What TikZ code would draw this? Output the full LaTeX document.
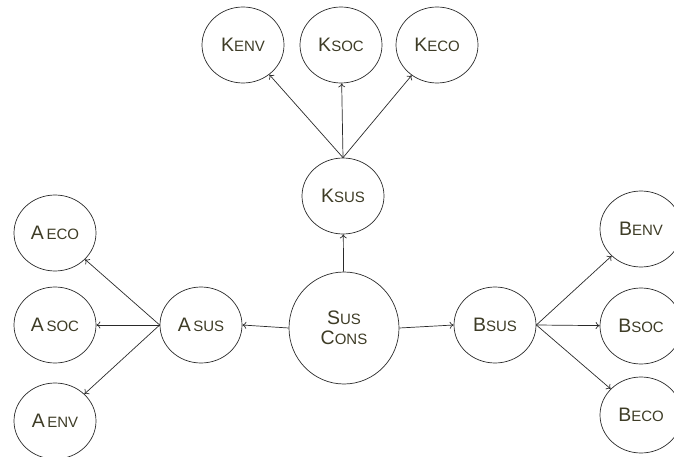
\documentclass[tikz,border=0pt]{standalone}
\usepackage{fontspec}
\setmainfont{Liberation Sans}
\usepackage{tikz}
\usepackage{xcolor}
\usetikzlibrary{arrows.meta,shapes}
\definecolor{txtcol}{HTML}{3E3C26}
\definecolor{linecol}{HTML}{2A2A2A}
\newcommand{\smcap}[2]{#1{\fontsize{15}{17}\selectfont #2}}
\tikzset{
  bubble/.style={ellipse,draw=linecol,line width=0.7pt,text=txtcol,inner sep=0pt,
    minimum width=82pt,minimum height=76pt,font=\fontsize{19.5}{22}\selectfont},
  link/.style={-{To[length=4pt,width=7pt]},draw=linecol,line width=0.7pt}
}
\begin{document}
\begin{tikzpicture}[x=1pt,y=-1pt]
\useasboundingbox (0,0) rectangle (674,457);
\clip (0,0) rectangle (674,457);
% centre and the three sustainability nodes
\node[bubble,minimum width=110pt,minimum height=112pt,align=center] (cons) at (344,328) {\smcap{S}{US}\\[-2pt]\smcap{C}{ONS}};
\node[bubble] (ksus) at (343,196) {\smcap{K}{SUS}};
\node[bubble] (asus) at (201,325) {\smcap{A}{\,SUS}};
\node[bubble] (bsus) at (495,325) {\smcap{B}{SUS}};
% K branch
\node[bubble] (kenv) at (243,45) {\smcap{K}{ENV}};
\node[bubble] (ksoc) at (341,45) {\smcap{K}{SOC}};
\node[bubble] (keco) at (437,45) {\smcap{K}{ECO}};
% A branch
\node[bubble] (aeco) at (55,233) {\smcap{A}{\,ECO}};
\node[bubble] (asoc) at (55,325) {\smcap{A}{\,SOC}};
\node[bubble] (aenv) at (55,421) {\smcap{A}{\,ENV}};
% B branch
\node[bubble] (benv) at (641,229) {\smcap{B}{ENV}};
\node[bubble] (bsoc) at (641,326) {\smcap{B}{SOC}};
\node[bubble] (beco) at (641,415) {\smcap{B}{ECO}};
\draw[link] (cons) -- (ksus);
\draw[link] (cons.west) -- (asus.east);
\draw[link] (cons.east) -- (bsus.west);
\draw[link] (ksus.north) -- (kenv);
\draw[link] (ksus.north) -- (ksoc);
\draw[link] (ksus.north) -- (keco);
\draw[link] (asus.west) -- (aeco);
\draw[link] (asus.west) -- (asoc);
\draw[link] (asus.west) -- (aenv);
\draw[link] (bsus.east) -- (benv);
\draw[link] (bsus.east) -- (bsoc);
\draw[link] (bsus.east) -- (beco);
\end{tikzpicture}
\end{document}
